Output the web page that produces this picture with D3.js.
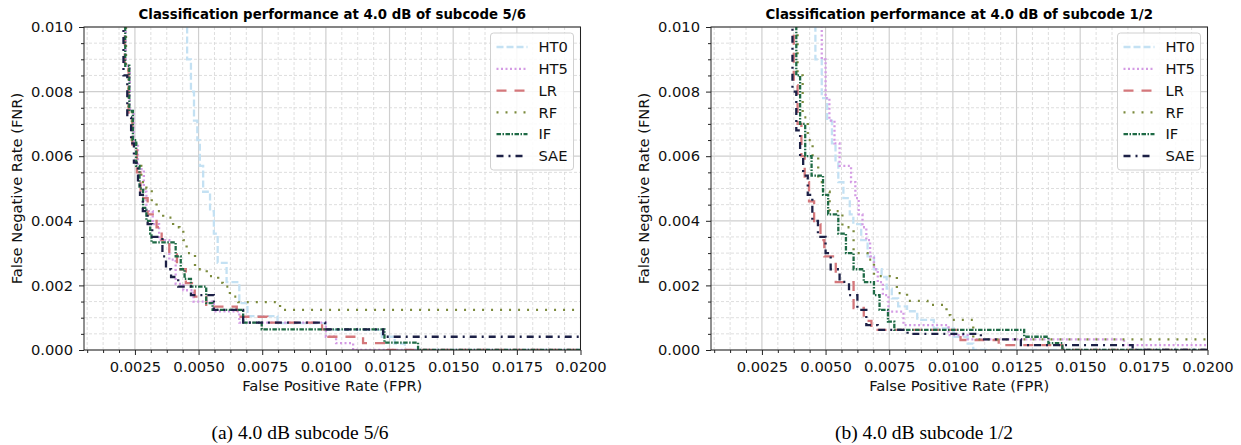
<!DOCTYPE html>
<html>
<head>
<meta charset="utf-8">
<script src="https://cdn.jsdelivr.net/npm/d3@7"></script>
<style>
  body { margin: 0; background: #fff; }
  svg { display: block; }
</style>
</head>
<body>
<div id="chart"></div>
<script>
// Series in legend order
const seriesNames = ['HT0', 'HT5', 'LR', 'RF', 'IF', 'SAE'];

// Panel (a): 4.0 dB, subcode 5/6  -- [FPR, FNR] step points
const ht0A = [[0.00439, 0.0102], [0.00455, 0.0090], [0.00470, 0.0080], [0.00482, 0.0071], [0.00495, 0.0065],
  [0.00505, 0.0057], [0.00518, 0.0049], [0.00545, 0.0043], [0.00560, 0.0036], [0.00575, 0.0027],
  [0.00610, 0.0021], [0.00660, 0.00145], [0.00692, 0.00105], [0.00810, 0.00083], [0.01000, 0.00062],
  [0.01220, 0.00041], [0.01270, 0.0002], [0.01310, 0], [0.0205, 0]];
const ht5A = [[0.00202, 0.0102], [0.00214, 0.0088], [0.00230, 0.0074], [0.00245, 0.0064], [0.00262, 0.0056],
  [0.00285, 0.0049], [0.00295, 0.0043], [0.00320, 0.0039], [0.00345, 0.0034], [0.00385, 0.0028],
  [0.00410, 0.00205], [0.00440, 0.00185], [0.00480, 0.00150], [0.00560, 0.00120], [0.00660, 0.00085],
  [0.01000, 0.00041], [0.01040, 0.00021], [0.01107, 0], [0.0205, 0]];
const lrA = [[0.00198, 0.0102], [0.00210, 0.0087], [0.00225, 0.0073], [0.00240, 0.0063], [0.00258, 0.0055],
  [0.00272, 0.0047], [0.00300, 0.0042], [0.00335, 0.0038], [0.00355, 0.0034], [0.00385, 0.0030],
  [0.00415, 0.0025], [0.00450, 0.00207], [0.00485, 0.00165], [0.00530, 0.00134], [0.00650, 0.00103],
  [0.00770, 0.00085], [0.00985, 0.00064], [0.01010, 0.00041], [0.01146, 0.00021], [0.01240, 0], [0.0205, 0]];
const rfA = [[0.00205, 0.0102], [0.00215, 0.0088], [0.00225, 0.0075], [0.00238, 0.0065], [0.00255, 0.0057],
  [0.00275, 0.0052], [0.00295, 0.0050], [0.00316, 0.0046], [0.00335, 0.0043], [0.00361, 0.0041],
  [0.00400, 0.0038], [0.00425, 0.0037], [0.00440, 0.0034], [0.00453, 0.0030], [0.00486, 0.0025],
  [0.00532, 0.00229], [0.00577, 0.00208], [0.00595, 0.00196], [0.00623, 0.00165], [0.00656, 0.00148],
  [0.00820, 0.00124], [0.0205, 0.00124]];
const ifA = [[0.00200, 0.0102], [0.00212, 0.0088], [0.00228, 0.0074], [0.00242, 0.0065], [0.00255, 0.0057],
  [0.00268, 0.0050], [0.00282, 0.0044], [0.00295, 0.0040], [0.00310, 0.0036], [0.00315, 0.00333],
  [0.00410, 0.0029], [0.00430, 0.0025], [0.00445, 0.0022], [0.00470, 0.00196], [0.00530, 0.00145],
  [0.00555, 0.00124], [0.00675, 0.00085], [0.00748, 0.00064], [0.01230, 0.00023], [0.01362, 0], [0.0205, 0]];
const saeA = [[0.00195, 0.0102], [0.00205, 0.0085], [0.00220, 0.0072], [0.00235, 0.0064], [0.00246, 0.0058],
  [0.00262, 0.0052], [0.00270, 0.0048], [0.00281, 0.0043], [0.00300, 0.0039], [0.00318, 0.0035],
  [0.00358, 0.0029], [0.00372, 0.0025], [0.00392, 0.00226], [0.00420, 0.00196], [0.00470, 0.0017],
  [0.00560, 0.00124], [0.00675, 0.00085], [0.00997, 0.00064], [0.01225, 0.00041], [0.0205, 0.00041]];

// Panel (b): 4.0 dB, subcode 1/2
const ht0B = [[0.00437, 0.0102], [0.00460, 0.0090], [0.00485, 0.0078], [0.00506, 0.0071], [0.00525, 0.0064],
  [0.00539, 0.0058], [0.00550, 0.0052], [0.00570, 0.0047], [0.00595, 0.0042], [0.00609, 0.0039],
  [0.00640, 0.0034], [0.00665, 0.0029], [0.00690, 0.0025], [0.00720, 0.00226], [0.00740, 0.0019],
  [0.00760, 0.0016], [0.00785, 0.00135], [0.00820, 0.0012], [0.00860, 0.00093], [0.00925, 0.00067],
  [0.01003, 0.00041], [0.01058, 0.0002], [0.01080, 0], [0.0205, 0]];
const ht5B = [[0.00469, 0.0102], [0.00485, 0.0090], [0.00500, 0.0078], [0.00515, 0.0071], [0.00535, 0.0064],
  [0.00555, 0.0057], [0.00600, 0.0052], [0.00617, 0.0047], [0.00630, 0.0042], [0.00645, 0.0038],
  [0.00660, 0.0034], [0.00675, 0.0029], [0.00690, 0.0025], [0.00705, 0.0021], [0.00725, 0.0017],
  [0.00747, 0.00119], [0.00806, 0.00077], [0.00983, 0.00046], [0.01058, 0.00033], [0.01672, 0.00015],
  [0.0205, 0.00015]];
const lrB = [[0.00360, 0.0102], [0.00375, 0.0082], [0.00390, 0.0070], [0.00405, 0.0060], [0.00418, 0.0052],
  [0.00435, 0.0046], [0.00455, 0.0039], [0.00480, 0.0034], [0.00495, 0.0029], [0.00540, 0.0021],
  [0.00610, 0.0013], [0.00650, 0.0009], [0.00680, 0.00062], [0.01030, 0.00031], [0.01180, 0.00015],
  [0.01430, 0], [0.0205, 0]];
const rfB = [[0.00373, 0.0102], [0.00390, 0.0085], [0.00410, 0.0072], [0.00430, 0.0065], [0.00449, 0.0060],
  [0.00471, 0.0052], [0.00490, 0.0049], [0.00516, 0.0043], [0.00566, 0.0038], [0.00610, 0.0030],
  [0.00665, 0.0028], [0.00690, 0.00229], [0.00780, 0.00176], [0.00820, 0.00152], [0.00900, 0.0014],
  [0.00975, 0.00108], [0.00990, 0.00093], [0.01080, 0.00033], [0.0205, 0.00033]];
const ifB = [[0.00370, 0.0102], [0.00385, 0.0085], [0.00400, 0.0070], [0.00420, 0.0060], [0.00445, 0.0054],
  [0.00490, 0.0048], [0.00510, 0.0042], [0.00550, 0.0036], [0.00580, 0.0030], [0.00610, 0.0025],
  [0.00650, 0.0021], [0.00690, 0.0017], [0.00712, 0.00124], [0.00745, 0.00088], [0.00770, 0.00062],
  [0.01280, 0.00041], [0.01375, 0.00021], [0.01430, 0], [0.0205, 0]];
const saeB = [[0.00355, 0.0102], [0.00370, 0.0080], [0.00385, 0.0068], [0.00400, 0.0060], [0.00412, 0.0054],
  [0.00430, 0.0048], [0.00448, 0.0040], [0.00470, 0.0035], [0.00500, 0.0030], [0.00520, 0.0025],
  [0.00555, 0.00211], [0.00592, 0.0017], [0.00625, 0.00124], [0.00660, 0.00077], [0.00705, 0.00062],
  [0.00822, 0.0005], [0.01110, 0.00033], [0.01267, 0.00015], [0.01706, 0], [0.0205, 0]];

// Axis ticks
const xMajorTicks = [0.0025, 0.005, 0.0075, 0.01, 0.0125, 0.015, 0.0175, 0.02];
const yMajorTicks = [0, 0.002, 0.004, 0.006, 0.008, 0.01];
const xMinorTicks = d3.range(1, 33).filter(k => k % 4 !== 0).map(k => k * 0.000625);
const yMinorTicks = d3.range(1, 20).filter(k => k % 4 !== 0).map(k => k * 0.0005);

const panelTitles = ['Classification performance at 4.0 dB of subcode 5/6',
  'Classification performance at 4.0 dB of subcode 1/2'];
const captions = ['(a) 4.0 dB subcode 5/6', '(b) 4.0 dB subcode 1/2'];

// line look per series
const styles = {
  HT0: {color: '#c4e1f3', dash: '7,3'},
  HT5: {color: '#d49be4', dash: '2,2.5'},
  LR:  {color: '#d4777b', dash: '10,8'},
  RF:  {color: '#7b8a3c', dash: '2,7'},
  IF:  {color: '#1e6a45', dash: '4.5,1.5,1.5,1.5'},
  SAE: {color: '#1c2046', dash: '7,5,2,5'}
};

const width = 1241, height = 445;
const plotW = 496.5, plotH = 323, plotTop = 27;
const font = "'DejaVu Sans', sans-serif";
const labelSize = '14.7px';
const lineW = 2.3;

const svg = d3.select('#chart').append('svg')
    .attr('width', width)
    .attr('height', height);

const panels = [
  {left: 84, captionX: 300, series: [ht0A, ht5A, lrA, rfA, ifA, saeA]},
  {left: 711, captionX: 924, series: [ht0B, ht5B, lrB, rfB, ifB, saeB]}
];

panels.forEach((p, i) => {
    const g = svg.append('g').attr('transform', `translate(${p.left},${plotTop})`);

    const x = d3.scaleLinear().domain([0.0005, 0.02]).range([0, plotW]);
    const y = d3.scaleLinear().domain([0, 0.01]).range([plotH, 0]);

    // minor grid (dashed)
    g.append('g').selectAll('line').data(xMinorTicks).join('line')
        .attr('x1', d => x(d)).attr('x2', d => x(d)).attr('y1', 0).attr('y2', plotH)
        .attr('stroke', '#d6d6d6').attr('stroke-width', 0.8).attr('stroke-dasharray', '3,2');
    g.append('g').selectAll('line').data(yMinorTicks).join('line')
        .attr('x1', 0).attr('x2', plotW).attr('y1', d => y(d)).attr('y2', d => y(d))
        .attr('stroke', '#d6d6d6').attr('stroke-width', 0.8).attr('stroke-dasharray', '3,2');
    // major grid (solid)
    g.append('g').selectAll('line').data(xMajorTicks).join('line')
        .attr('x1', d => x(d)).attr('x2', d => x(d)).attr('y1', 0).attr('y2', plotH)
        .attr('stroke', '#cfcfcf').attr('stroke-width', 1.2);
    g.append('g').selectAll('line').data(yMajorTicks).join('line')
        .attr('x1', 0).attr('x2', plotW).attr('y1', d => y(d)).attr('y2', d => y(d))
        .attr('stroke', '#cfcfcf').attr('stroke-width', 1.2);

    // curves
    g.append('clipPath').attr('id', 'clip' + i)
        .append('rect').attr('width', plotW).attr('height', plotH);

    const line = d3.line()
        .x(d => x(d[0]))
        .y(d => y(d[1]))
        .curve(d3.curveStepAfter);

    const curves = g.append('g').attr('clip-path', `url(#clip${i})`);
    p.series.forEach((data, k) => {
        const s = styles[seriesNames[k]];
        curves.append('path')
            .attr('d', line(data))
            .attr('fill', 'none')
            .attr('stroke', s.color)
            .attr('stroke-width', lineW)
            .attr('stroke-dasharray', s.dash);
    });

    // axes
    const xAxis = g.append('g').attr('transform', `translate(0,${plotH})`)
        .call(d3.axisBottom(x).tickValues(xMajorTicks).tickFormat(d3.format('.4f'))
            .tickSizeInner(5).tickSizeOuter(0).tickPadding(7));
    g.append('g').attr('transform', `translate(0,${plotH})`)
        .call(d3.axisBottom(x).tickValues(xMinorTicks).tickFormat('').tickSizeInner(3).tickSizeOuter(0));
    const yAxis = g.append('g')
        .call(d3.axisLeft(y).tickValues(yMajorTicks).tickFormat(d3.format('.3f'))
            .tickSizeInner(5).tickSizeOuter(0).tickPadding(6));
    g.append('g')
        .call(d3.axisLeft(y).tickValues(yMinorTicks).tickFormat('').tickSizeInner(3).tickSizeOuter(0));

    g.selectAll('.domain').remove();
    g.selectAll('.tick line').attr('stroke', '#222');
    [xAxis, yAxis].forEach(a => a.selectAll('text')
        .style('font-family', font).style('font-size', labelSize).attr('fill', '#111'));

    // frame
    g.append('rect').attr('width', plotW).attr('height', plotH)
        .attr('fill', 'none').attr('stroke', '#222').attr('stroke-width', 1);

    // title and axis labels
    g.append('text').attr('x', plotW / 2).attr('y', -8)
        .attr('text-anchor', 'middle')
        .style('font-family', font).style('font-size', '13.3px').style('font-weight', 'bold')
        .text(panelTitles[i]);
    g.append('text').attr('x', plotW / 2).attr('y', plotH + 41)
        .attr('text-anchor', 'middle')
        .style('font-family', font).style('font-size', labelSize).attr('fill', '#111')
        .text('False Positive Rate (FPR)');
    g.append('text')
        .attr('transform', `translate(${-62},${plotH / 2}) rotate(-90)`)
        .attr('text-anchor', 'middle')
        .style('font-family', font).style('font-size', labelSize).attr('fill', '#111')
        .text('False Negative Rate (FNR)');

    // legend
    const lg = g.append('g').attr('transform', `translate(${plotW - 90},6)`);
    lg.append('rect').attr('width', 83).attr('height', 137).attr('rx', 3)
        .attr('fill', '#fff').attr('fill-opacity', 0.85)
        .attr('stroke', '#d0d0d0').attr('stroke-width', 1);
    seriesNames.forEach((name, k) => {
        const yy = 14 + k * 21.8;
        lg.append('line').attr('x1', 6).attr('x2', 37).attr('y1', yy).attr('y2', yy)
            .attr('stroke', styles[name].color).attr('stroke-width', lineW)
            .attr('stroke-dasharray', styles[name].dash);
        lg.append('text').attr('x', 48).attr('y', yy).attr('dy', '0.36em')
            .style('font-family', font).style('font-size', labelSize).attr('fill', '#111')
            .text(name);
    });

    // sub-figure caption
    svg.append('text').attr('x', p.captionX).attr('y', 439)
        .attr('text-anchor', 'middle')
        .style('font-family', "'Liberation Serif', 'Times New Roman', serif").style('font-size', '19.5px')
        .text(captions[i]);
});
</script>
</body>
</html>
